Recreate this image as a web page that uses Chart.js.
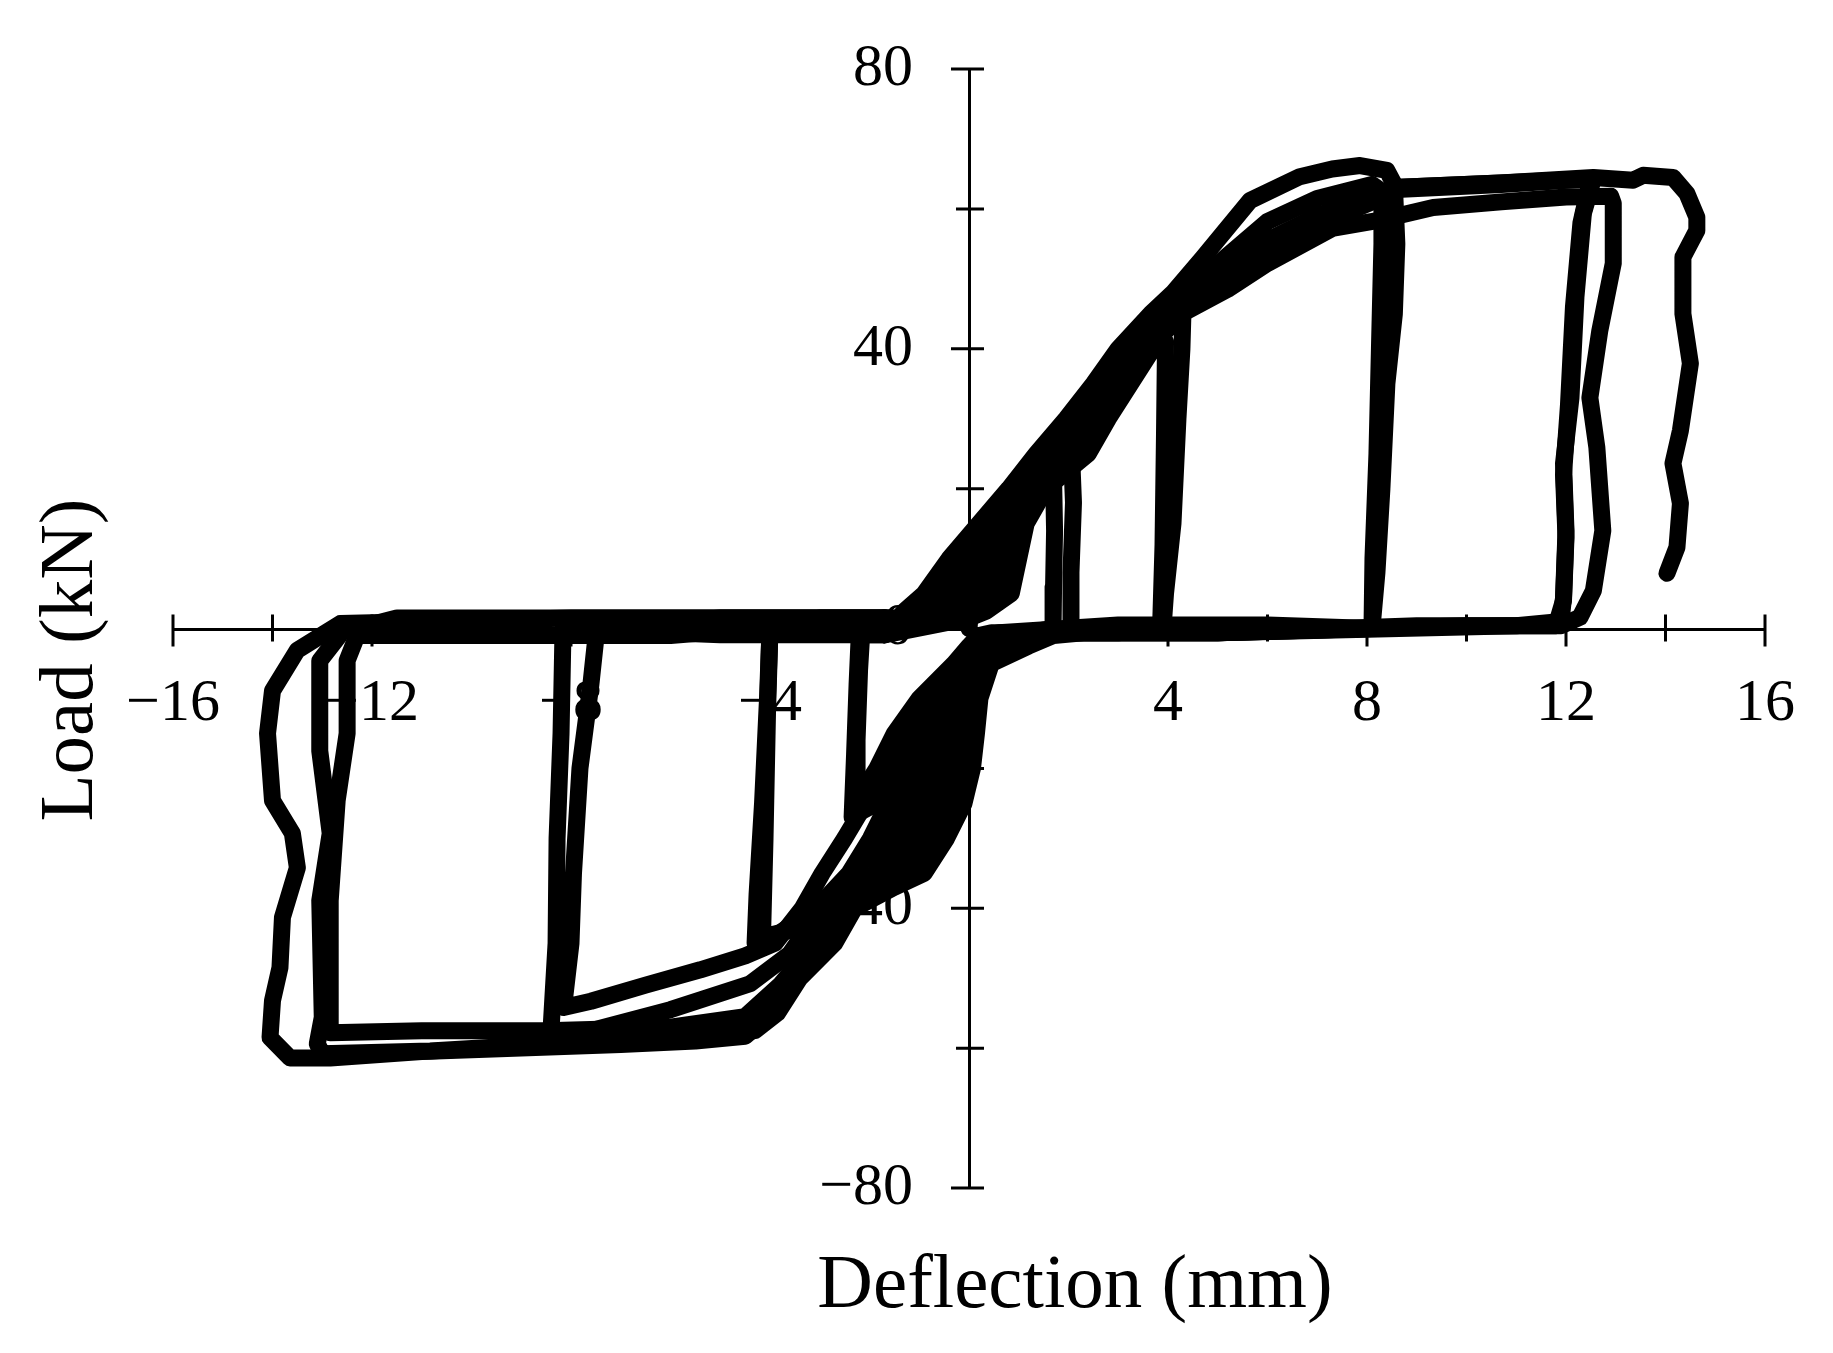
<!DOCTYPE html>
<html>
<head>
<meta charset="utf-8">
<script src="https://cdn.jsdelivr.net/npm/chart.js@4/dist/chart.umd.min.js"></script>
<style>
  body{margin:0;background:#fff;}
  canvas{display:block;}
</style>
</head>
<body>
<canvas id="chart" width="1833" height="1353"></canvas>
<script>

/* AXES */
const xTitle = "Deflection (mm)";
const yTitle = "Load (kN)";
const xLabelStep = 4;
const yLabelStep = 40;

/* CYCLES (deflection mm / load kN) */
const cyc1Defl = [0,0.06,0.37,0.72,1.12,1.6,2.05,2.1,2.05,2.05,1.2,0.45,0.2,0.0,-0.3,-1.0,-1.5,-1.85,-2.3,-2.35,-2.3,-2.25,-2.2,-1.9];
const cyc1Load = [0,5,10,15,20,24,27,18,8,0,-0.6,-0.6,-1,-2.5,-5,-10,-15,-20,-25,-27,-18,-8,0,1.2];

const cyc2Defl = [-1.9,-0.35,0.1,0.59,0.79,1.01,1.37,1.7,1.72,1.7,1.69,1.2,0.8,0.5,0.24,-0.13,-0.76,-1.16,-1.46,-1.85,-2.25,-2.25,-2.2,-2.15,-1.7];
const cyc2Load = [1.2,1.2,2.5,5,10,15,20,21.5,14,6,0,-0.6,-0.6,-1,-2.5,-5,-10,-15,-20,-25,-26.5,-16,-6,0,-0.9];

const cyc3Defl = [-1.7,-1.25,-0.8,-0.38,0.02,0.49,0.95,1.62,2.2,2.73,3.21,3.86,4.15,4.3,4.28,4.2,4.1,3.95,3.9,3.0,1.2,0.9,0.65,0.36,-0.05,-0.63,-0.99,-1.26,-1.63,-1.98,-2.41,-3.07,-3.8,-4.3,-4.26,-4.15,-4.05,-4.0,-3.0,-1.7];
const cyc3Load = [-0.9,1.2,2.5,5,10,15,20,25,30,35,40,45,46.5,45,40,30,15,5,0,-0.6,-0.6,-0.6,-1,-2.5,-5,-10,-15,-20,-25,-30,-35,-40,-43.5,-45,-38,-25,-10,0,1.5,1.5];

const cyc4Defl = [-1.7,-0.1,0.35,0.85,1.0,1.15,1.55,2.4,2.8,3.25,3.7,3.95,3.93,3.9,3.85,2.0,1.3,1.03,0.66,0.17,-0.33,-0.58,-0.77,-1.06,-1.45,-1.9,-2.8,-3.5,-4.1,-4.15,-4.1,-4.05,-4.0,-2.0,-1.7];
const cyc4Load = [1.5,1.2,2.5,5,10,15,20,25,30,35,40,41,28,12,0,-0.6,-0.6,-1,-2.5,-5,-10,-15,-20,-25,-30,-35,-40,-43,-44,-44,-30,-12,0,-0.9,-0.9];

const cyc5Defl = [-1.7,-1.3,-0.9,-0.4,0.2,0.8,1.35,1.95,2.5,3.0,3.65,4.1,4.7,5.65,6.65,7.3,7.86,8.4,8.55,8.6,8.55,8.4,8.3,8.2,8.1,6.0,3.0,0.6,0.35,0.12,-0.22,-0.88,-1.33,-1.65,-2.08,-2.5,-2.95,-3.35,-3.9,-4.5,-5.4,-6.5,-7.6,-8.15,-8.0,-7.95,-7.82,-7.6,-7.48,-5.0,-1.7];
const cyc5Load = [-0.9,2.5,5,10,15,20,25,30,35,40,45,48,53,61.2,64.6,65.7,66.2,65.5,63.5,55,45,35,20,8,0,0.5,0.5,-0.6,-1,-2.5,-5,-10,-15,-20,-25,-30,-35,-40,-45,-46.8,-48.8,-51,-53.3,-54.2,-45,-35,-20,-8,0,1.5,1.5];

const cyc6Defl = [-1.7,-1.45,-1.05,-0.64,-0.19,0.34,0.9,1.5,2.05,2.61,3.11,3.76,4.3,4.9,6.0,7.0,8.1,8.3,8.3,8.25,8.2,8.12,8.1,5.0,2.0,1.0,0.8,0.48,0.04,-0.51,-0.83,-1.06,-1.4,-1.8,-2.3,-2.96,-3.6,-4.4,-6.0,-7.6,-8.42,-8.3,-8.28,-8.2,-8.16,-5.0,-1.7];
const cyc6Load = [1.5,1.2,2.5,5,10,15,20,25,30,35,40,45,48,51.5,58.2,61.5,63.5,62.5,55,40,25,10,0,-0.6,-0.6,-0.6,-1,-2.5,-5,-10,-15,-20,-25,-30,-35,-40,-46.5,-50.8,-54.5,-57.5,-59.6,-45,-30,-15,0,-0.9,-0.9];

const cyc7Defl = [-1.7,-0.2,0.19,0.68,0.86,1.06,1.5,2.3,2.72,3.2,3.63,4.28,5.2,6.0,7.3,8.26,9.33,10.7,12.0,12.9,12.95,12.95,12.68,12.48,12.62,12.74,12.55,12.28,11.9,9.0,5.0,2.0,1.5,1.25,0.84,0.3,-0.15,-0.32,-0.47,-0.73,-1.1,-1.6,-2.63,-3.1,-3.8,-4.5,-6.0,-8.5,-11.0,-12.84,-12.84,-12.84,-12.7,-12.5,-12.5,-12.3,-11.5,-6.0,-1.7];
const cyc7Load = [-0.9,1.2,2.5,5,10,15,20,25,30,35,40,45,48.5,52.2,57.2,58.4,60.2,61,61.7,61.8,60.8,52.2,42.6,33,25.9,14,5.4,1.6,0.4,0.4,-0.6,-0.6,-0.6,-1,-2.5,-5,-10,-15,-20,-25,-30,-35,-40,-45,-51,-55.5,-57,-57.5,-57.5,-57.8,-55.6,-38.9,-24.6,-15,-4.6,-1,-1.0,-1.0,1.5];

const cyc8Defl = [-1.7,-0.95,-0.56,-0.11,0.23,0.63,1.1,1.8,2.35,2.84,3.32,3.97,4.5,5.0,6.0,7.0,8.0,8.66,10.67,12.55,12.35,12.2,12.1,11.95,12.0,11.95,11.9,11.0,5.0,2.3,1.7,1.2,0.45,0.22,0.15,0.07,-0.1,-0.45,-0.9,-1.5,-2.3,-2.7,-3.4,-3.85,-4.3,-5.5,-6.8,-8.48,-10.83,-13.0,-13.1,-13.0,-13.05,-12.84,-13.05,-13.05,-12.6,-11.5,-6.0,-1.7];
const cyc8Load = [1.5,1.2,2.5,5,10,15,20,25,30,35,40,45,48,51,55.5,59,61.5,63.1,63.7,64.3,59.4,47.4,33,23.6,14,4.4,1.0,0.4,-0.6,-0.6,-1,-2.5,-5,-10,-15,-20,-25,-30,-35,-37,-40,-45,-50,-55,-57.5,-58.4,-58.8,-59.4,-60.4,-60.8,-59.4,-55.6,-38.9,-29.3,-17.5,-4.6,-0.5,1.5,1.5,1.5];

const cyc9Defl = [-1.7,-0.6,-0.15,0.33,0.58,0.87,1.3,2.08,2.55,3.05,3.49,4.14,4.7,5.2,6.1,7.1,8.1,8.7,10.7,12.5,12.3,12.15,12.05,11.95,12.0,11.95,11.8,10.0,5.0,2.1,1.48,1.02,0.42,0.04,-0.07,-0.18,-0.39,-0.75,-1.25,-2.47,-2.9,-3.5,-3.95,-4.5,-5.5,-7.0,-9.0,-11.0,-12.84,-13.65,-14.05,-14.0,-13.85,-13.8,-13.5,-13.6,-14.0,-14.1,-14.0,-13.5,-12.64,-8.0,-1.7];
const cyc9Load = [1.5,1.2,2.5,5,10,15,20,25,30,35,40,45,48.5,51,54.5,58,61,62.8,63.5,64.3,58,46,32,22,13,4,0.4,0.4,-0.6,-0.6,-1,-2.5,-5,-10,-15,-20,-25,-30,-35,-40,-45,-50,-55,-58.3,-59,-59.5,-60,-60.5,-61.4,-61.4,-58.5,-53.2,-48.5,-41.3,-34.2,-29.3,-24.6,-15,-8.9,-3.1,0.7,1.5,1.5];

const cyc10Defl = [-1.7,-0.74,-0.31,0.15,0.44,0.77,1.2,1.95,2.45,2.95,3.42,4.07,4.6,5.1,6.1,7.1,8.1,8.66,10.67,12.55,13.35,13.55,14.15,14.43,14.63,14.63,14.35,14.35,14.5,14.3,14.15,14.3,14.23,14.03];
const cyc10Load = [1.5,1.2,2.5,5,10,15,20,25,30,35,40,45,48,51,55,58.6,61.3,63.1,63.7,64.5,64.1,64.8,64.5,62.2,58.8,56.9,53.1,45,37.9,28.3,23.6,17.9,11.6,7.9];

const cycles = [
  [cyc1Defl, cyc1Load], [cyc2Defl, cyc2Load], [cyc3Defl, cyc3Load],
  [cyc4Defl, cyc4Load], [cyc5Defl, cyc5Load], [cyc6Defl, cyc6Load],
  [cyc7Defl, cyc7Load], [cyc8Defl, cyc8Load], [cyc9Defl, cyc9Load],
  [cyc10Defl, cyc10Load]
];

function fmt(v){
  return v < 0 ? "\u2212" + Math.abs(v) : String(v);
}

// centred axes should not eat space from the plot area
function noFit(s){
  if(s.isHorizontal()) s.height = 0; else s.width = 0;
  s.paddingTop = s.paddingBottom = s.paddingLeft = s.paddingRight = 0;
}

/* TICK MARKS crossing the axes */
const crossTicks = {
  id: "crossTicks",
  beforeDatasetsDraw(chart){
    const {ctx, scales:{x, y}} = chart;
    const x0 = x.getPixelForValue(0);
    const y0 = y.getPixelForValue(0);
    ctx.save();
    ctx.strokeStyle = "#000";
    ctx.lineWidth = 3;
    ctx.beginPath();
    x.ticks.forEach(t=>{
      if(t.value === 0) return;
      const px = x.getPixelForValue(t.value);
      const out = t.value % xLabelStep === 0 ? 18 : 13;
      ctx.moveTo(px, y0 - 14);
      ctx.lineTo(px, y0 + out);
    });
    y.ticks.forEach(t=>{
      if(t.value === 0) return;
      const py = y.getPixelForValue(t.value);
      const out = t.value % yLabelStep === 0 ? 18 : 13;
      ctx.moveTo(x0 - out, py);
      ctx.lineTo(x0 + 15, py);
    });
    ctx.stroke();
    ctx.restore();
  }
};

/* AXIS TITLES */
const axisTitles = {
  id: "axisTitles",
  afterDraw(chart){
    const ctx = chart.ctx;
    ctx.save();
    ctx.fillStyle = "#000";
    ctx.font = '77px "Liberation Serif"';
    ctx.textAlign = "center";
    ctx.textBaseline = "alphabetic";
    ctx.fillText(xTitle, 1075, 1307);
    ctx.translate(92, 660);
    ctx.rotate(-Math.PI / 2);
    ctx.fillText(yTitle, 0, 0);
    ctx.restore();
  }
};

const tickFont = { family: "Liberation Serif", size: 60 };

new Chart(document.getElementById("chart"), {
  type: "scatter",
  data: {
    datasets: cycles.map(c => ({
      data: c[0].map((d, i) => ({ x: d, y: c[1][i] })),
      showLine: true,
      borderColor: "#000",
      backgroundColor: "#000",
      borderWidth: 17,
      borderJoinStyle: "round",
      borderCapStyle: "round",
      pointRadius: 0,
      tension: 0
    }))
  },
  options: {
    responsive: false,
    devicePixelRatio: 1,
    animation: false,
    layout: { padding: { left: 173, right: 68, top: 69, bottom: 165 } },
    plugins: {
      legend: { display: false },
      tooltip: { enabled: false }
    },
    scales: {
      x: {
        type: "linear",
        position: "center",
        min: -16,
        max: 16,
        afterFit: noFit,
        grid: { display: true, drawOnChartArea: false, drawTicks: false },
        border: { display: true, color: "#000", width: 3 },
        ticks: {
          stepSize: 2,
          autoSkip: false,
          maxRotation: 0,
          padding: 40,
          color: "#000",
          font: tickFont,
          callback: v => v % xLabelStep === 0 ? fmt(v) : ""
        }
      },
      y: {
        type: "linear",
        position: "center",
        min: -80,
        max: 80,
        afterFit: noFit,
        grid: { display: true, drawOnChartArea: false, drawTicks: false },
        border: { display: true, color: "#000", width: 3 },
        ticks: {
          stepSize: 20,
          autoSkip: false,
          padding: 56,
          color: "#000",
          font: tickFont,
          callback: v => v % yLabelStep === 0 ? fmt(v) : ""
        }
      }
    }
  },
  plugins: [crossTicks, axisTitles]
});
</script>
</body>
</html>
